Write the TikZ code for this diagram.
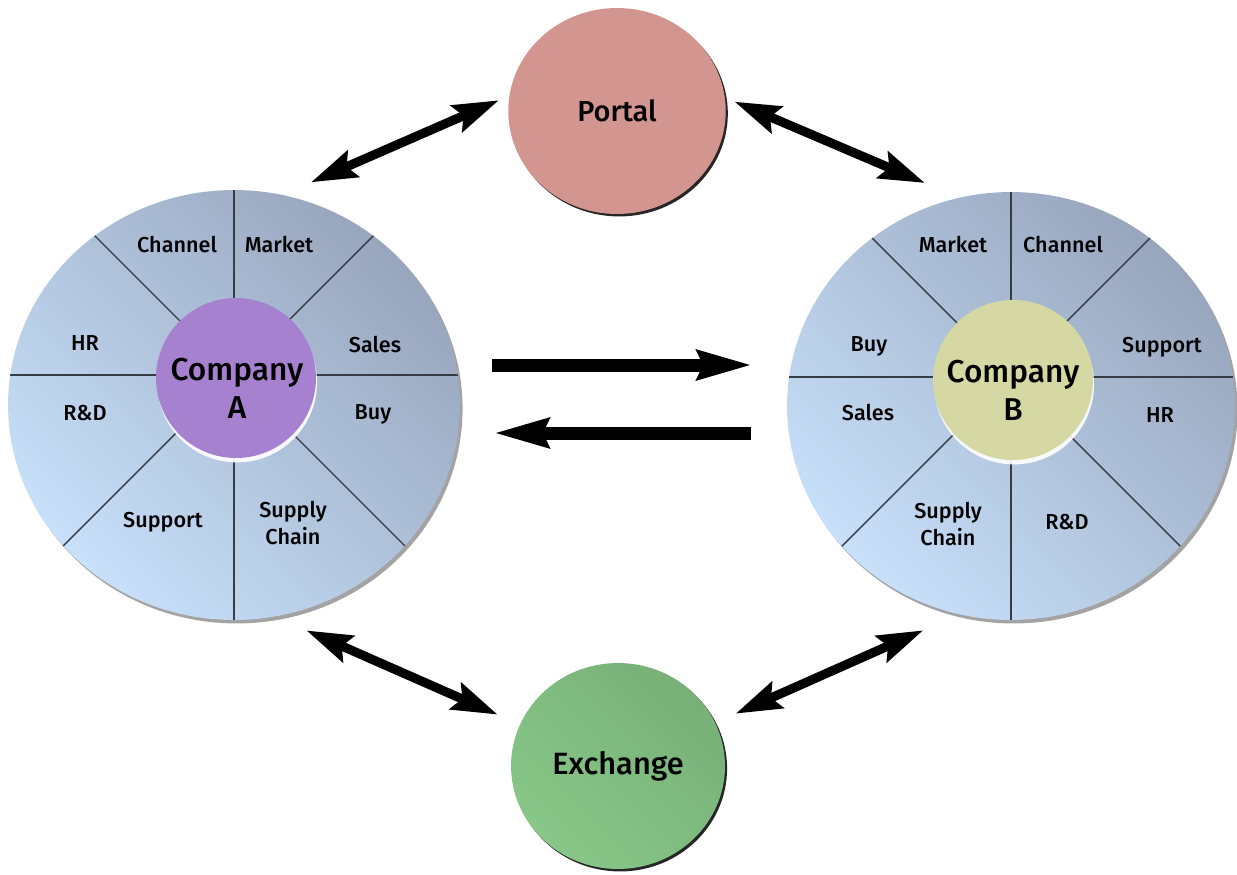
\documentclass[tikz,border=0pt]{standalone}
\usepackage{fontspec}
\setmainfont{Fira Sans}[UprightFont={* Medium}]
\usetikzlibrary{shapes.geometric,arrows.meta,shadows}

\definecolor{discdark}{HTML}{98A6BD}
\definecolor{disclight}{HTML}{C8E0FA}
\definecolor{portalpink}{HTML}{D3958F}
\definecolor{exchdark}{HTML}{78B078}
\definecolor{exchlight}{HTML}{88C788}
\definecolor{compapurple}{HTML}{A581CF}
\definecolor{compbyellow}{HTML}{D5D8A3}
\definecolor{divline}{HTML}{363B44}

\begin{document}
\begin{tikzpicture}[x=0.02cm, y=-0.02cm,
    bigdisc/.style={ellipse, inner sep=0pt, top color=discdark, bottom color=disclight,
      shading angle=-45, drop shadow={shadow xshift=1.5pt, shadow yshift=-2pt, fill=black!45, opacity=.8}},
    hub/.style={circle, inner sep=0pt, minimum size=3.2cm,
      drop shadow={shadow xshift=.6pt, shadow yshift=-2.5pt, fill=white, opacity=.9}},
    hubtext/.style={align=center, font=\fontsize{18}{21.5}\selectfont},
    market/.style={ellipse, inner sep=0pt, minimum width=4.35cm, minimum height=4.12cm,
      drop shadow={shadow xshift=1.2pt, shadow yshift=-1.4pt, fill=black!85, opacity=1}},
    seglabel/.style={align=center, font=\fontsize{12.3}{15}\selectfont},
    divider/.style={draw=divline, line width=0.8pt},
    linkarrow/.style={{Stealth[length=26pt, width=16pt, inset=4pt]}-{Stealth[length=26pt, width=16pt, inset=4pt]}, line width=5.2pt},
    flowarrow/.style={-{Stealth[length=31pt, width=16pt, inset=3pt]}, line width=7.4pt}
  ]
  \useasboundingbox (0,0) rectangle (1237,875);

  % the two company wheels
  \node[bigdisc, minimum width=9.04cm, minimum height=8.6cm] (compA) at (234,405) {};
  \node[bigdisc, minimum width=8.96cm, minimum height=8.56cm] (compB) at (1011,406) {};
  \coordinate (hubA) at (234,375);
  \coordinate (hubB) at (1011,377);
  \begin{scope}
    \clip (compA.center) ellipse [x radius=4.52cm, y radius=4.3cm];
    \foreach \ang in {0,45,...,315}
      \draw[divider] (hubA) -- ++(\ang:300);
  \end{scope}
  \begin{scope}
    \clip (compB.center) ellipse [x radius=4.48cm, y radius=4.28cm];
    \foreach \ang in {0,45,...,315}
      \draw[divider] (hubB) -- ++(\ang:300);
  \end{scope}
  \node[hub, fill=compapurple] (hubAnode) at (236,378) {};
  \node[hub, fill=compbyellow] (hubBnode) at (1013,380) {};
  \node[hubtext] (hubAtext) at (237,388) {Company\\A};
  \node[hubtext] (hubBtext) at (1013,390) {Company\\B};

  % labels of company A
  \node[seglabel] (aChannel) at (177,245) {Channel};
  \node[seglabel] (aMarket) at (279,245) {Market};
  \node[seglabel] (aHR) at (85,343) {HR};
  \node[seglabel] (aSales) at (375,345) {Sales};
  \node[seglabel] (aRD) at (85,413) {R\&D};
  \node[seglabel] (aBuy) at (373,414) {Buy};
  \node[seglabel] (aSupport) at (163,522) {Support};
  \node[seglabel] (aSupply) at (293,523) {Supply\\Chain};

  % labels of company B
  \node[seglabel] (bMarket) at (953,245) {Market};
  \node[seglabel] (bChannel) at (1063,245) {Channel};
  \node[seglabel] (bBuy) at (869,346) {Buy};
  \node[seglabel] (bSupport) at (1162,347) {Support};
  \node[seglabel] (bSales) at (868,413) {Sales};
  \node[seglabel] (bHR) at (1160,415) {HR};
  \node[seglabel] (bSupply) at (948,524) {Supply\\Chain};
  \node[seglabel] (bRD) at (1067,522) {R\&D};

  % portal and exchange
  \node[market, fill=portalpink, font=\fontsize{16.5}{19}\selectfont] (portal) at (617,111) {Portal};
  \node[market, top color=exchdark, bottom color=exchlight, shading angle=-45,
    minimum width=4.28cm, font=\fontsize{17.5}{20}\selectfont] (exchange) at (618,766) {Exchange};

  % connectors
  \draw[linkarrow, shorten <=0.62cm, shorten >=0.22cm] (compA.77.8) -- (portal.172);
  \draw[linkarrow, shorten <=0.2cm, shorten >=0.74cm] (portal.7.85) -- (compB.104);
  \draw[linkarrow, shorten <=0.68cm, shorten >=0.48cm] (compA.281.5) -- (exchange.157.2);
  \draw[linkarrow, shorten <=0.44cm, shorten >=0.78cm] (exchange.24.6) -- (compB.256.4);
  \draw[flowarrow] ([shift={(32,-40)}]compA.east) -- ([shift={(-34,-41)}]compB.west);
  \draw[flowarrow] ([shift={(-36,27)}]compB.west) -- ([shift={(33,28)}]compA.east);
\end{tikzpicture}
\end{document}
